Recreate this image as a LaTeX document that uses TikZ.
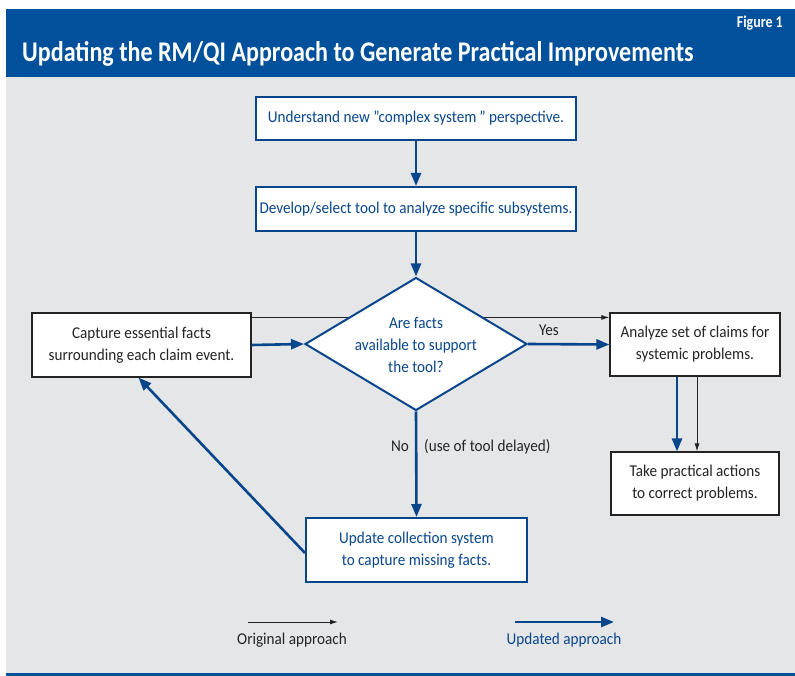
\documentclass[tikz,border=0pt]{standalone}
\usepackage{fontspec}
\setmainfont[FakeStretch=0.92]{Carlito}
\newfontfamily\headfont[FakeStretch=0.845]{Carlito}
\usetikzlibrary{arrows.meta,shapes.geometric,calc}
\definecolor{hdrblue}{RGB}{0,80,155}
\definecolor{lineblue}{RGB}{8,70,140}
\definecolor{panelgray}{RGB}{229,230,232}
\definecolor{inkgray}{RGB}{35,35,35}
\tikzset{
  newbox/.style={draw=lineblue, line width=2pt, fill=white, text=lineblue, align=center, inner sep=0pt, font=\fontsize{16.5}{22}\selectfont},
  oldbox/.style={draw=inkgray, line width=1.1pt, fill=white, text=inkgray, align=center, inner sep=0pt, font=\fontsize{16.5}{22}\selectfont},
  newflow/.style={draw=lineblue, line width=2.6pt, -{Triangle[length=13pt,width=10pt]}},
  oldflow/.style={draw=inkgray, line width=1pt, -{Latex[length=8pt,width=5pt]}},
  plaintext/.style={text=inkgray, font=\fontsize{16.5}{22}\selectfont, inner sep=0pt},
}
\begin{document}
\begin{tikzpicture}[x=1pt,y=-1pt]
\useasboundingbox (0,0) rectangle (795,676);
% panels
\fill[white] (0,0) rectangle (795,676);
\fill[hdrblue] (6,9) rectangle (795,77);
\fill[panelgray] (6,77) rectangle (795,672.5);
\fill[hdrblue] (6,672.5) rectangle (795,676);
\node[anchor=base west, text=white, inner sep=0pt, font=\headfont\bfseries\fontsize{28.5}{30}\selectfont] (title) at (22,62) {Updating the RM/QI Approach to Generate Practical Improvements};
\node[anchor=base east, text=white, inner sep=0pt, font=\headfont\bfseries\fontsize{16.5}{18}\selectfont] (fig) at (783,28) {Figure 1};

% old-approach line runs behind the decision diamond
\node[oldbox, minimum width=219pt, minimum height=64pt] (cap) at (141.5,345) {Capture essential facts\\surrounding each claim event.};
\node[oldbox, minimum width=170pt, minimum height=63pt] (ana) at (695,344.5) {Analyze set of claims for\\systemic problems.};
\node[oldbox, minimum width=168pt, minimum height=63pt] (take) at (695,483.5) {Take practical actions\\to correct problems.};
\draw[oldflow] ([yshift=-5pt]cap.north east) -- ([yshift=-5pt]ana.north west);

\node[newbox, minimum width=320pt, minimum height=43pt] (u1) at (416,118.5) {Understand new ”complex system\,” perspective.};
\node[newbox, minimum width=320pt, minimum height=44pt] (u2) at (416,209) {Develop/select tool to analyze specific subsystems.};
\node[diamond, draw=lineblue, line width=2pt, fill=white, inner sep=0pt, minimum width=222pt, minimum height=133pt] (dia) at (416,344) {};
\node[text=lineblue, align=center, inner sep=0pt, font=\fontsize{16.5}{22}\selectfont] (dtext) at (416,345) {Are facts\\available to support\\the tool?};
\node[newbox, minimum width=221pt, minimum height=64pt] (upd) at (416.5,550) {Update collection system\\to capture missing facts.};

% updated flow
\draw[newflow] (u1) -- (u2);
\draw[newflow] (u2) -- (dia);
\draw[newflow] (cap.east) -- (dia.west);
\draw[newflow] (dia.east) -- (ana.west);
\node[plaintext] (yes) at (549,330) {Yes};
\draw[newflow] (dia.south) -- (upd.north);
\node[plaintext, anchor=base east] (no) at (409,451) {No};
\node[plaintext, anchor=base west] (delay) at (424,451) {(use of tool delayed)};
\draw[newflow] ([xshift=-18pt]ana.south) -- ([xshift=-18pt]take.north);
\draw[oldflow] ([xshift=2pt]ana.south) -- ([xshift=2pt]take.north);
\draw[newflow] ([yshift=-3pt]upd.west) -- ([xshift=-3pt]cap.south);

% legend
\coordinate (o1) at (248,622);
\coordinate (o2) at (338,622);
\coordinate (n1) at (515,622);
\coordinate (n2) at (614,622);
\draw[oldflow] (o1) -- (o2);
\draw[newflow] (n1) -- (n2);
\node[plaintext] (olab) at (292,640) {Original approach};
\node[plaintext, text=lineblue] (nlab) at (564,640) {Updated approach};
\end{tikzpicture}
\end{document}
